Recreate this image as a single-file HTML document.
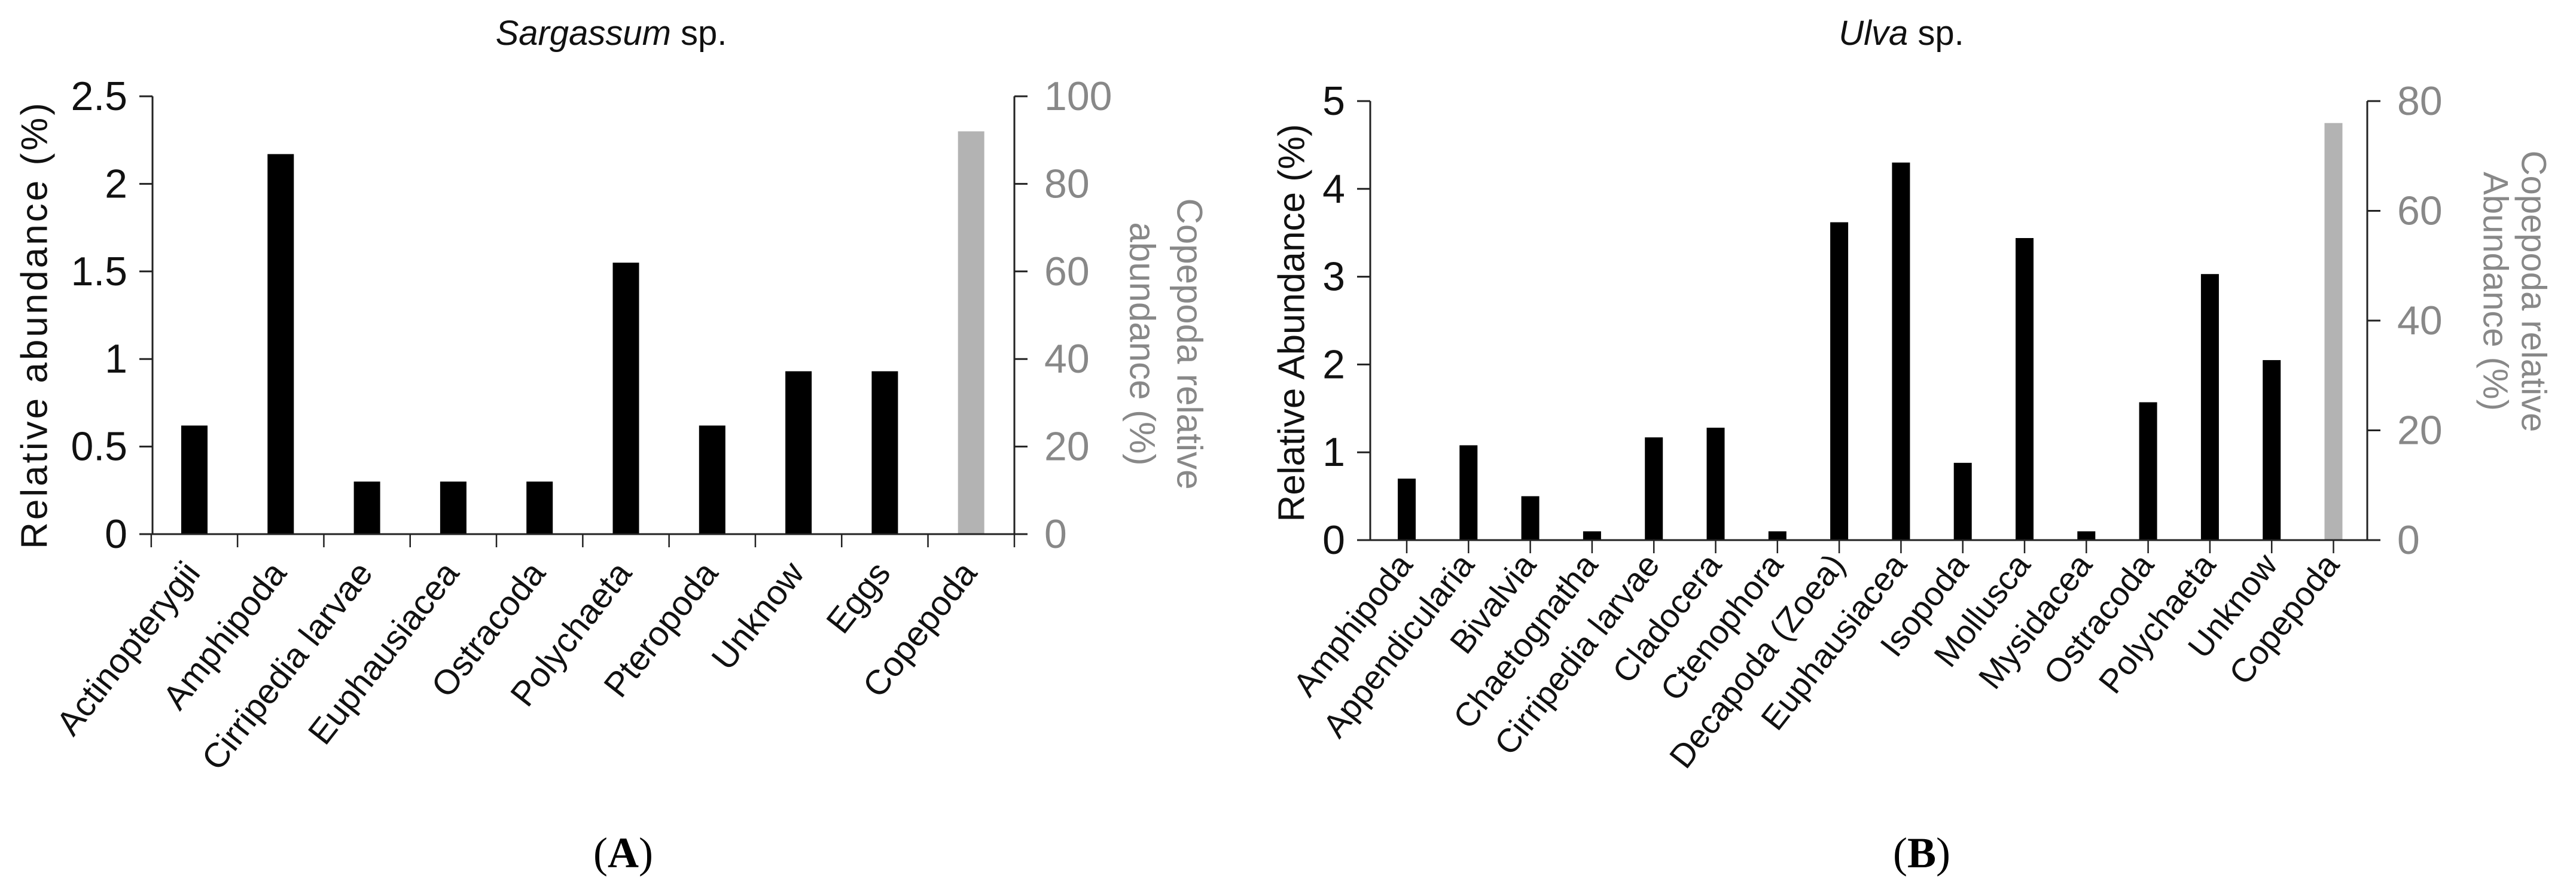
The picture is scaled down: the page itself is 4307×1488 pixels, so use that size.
<!DOCTYPE html>
<html><head><meta charset="utf-8"><style>
html,body{margin:0;padding:0;background:#fff}
svg{display:block}
text{font-family:"Liberation Sans",sans-serif}
</style></head><body>
<svg id="fig" width="4307" height="1488" viewBox="0 0 4307 1488" xmlns="http://www.w3.org/2000/svg">
<g id="chartA"></g>
<g id="chartB"></g>
<text x="1042" y="1450" text-anchor="middle" font-family="Liberation Serif,serif" font-size="72" style="font-family:'Liberation Serif',serif">(<tspan font-weight="bold">A</tspan>)</text>
<text x="3213" y="1450" text-anchor="middle" font-size="72" style="font-family:'Liberation Serif',serif">(<tspan font-weight="bold">B</tspan>)</text>
</svg>
<script>
const catsA = ["Actinopterygii","Amphipoda","Cirripedia larvae","Euphausiacea","Ostracoda","Polychaeta","Pteropoda","Unknow","Eggs"];
const valsA = [0.62,2.17,0.3,0.3,0.3,1.55,0.62,0.93,0.93];
const copeA = 92;
const ticksLA = [0,0.5,1,1.5,2,2.5];
const ticksRA = [0,20,40,60,80,100];

const catsB = ["Amphipoda","Appendicularia","Bivalvia","Chaetognatha","Cirripedia larvae","Cladocera","Ctenophora","Decapoda (Zoea)","Euphausiacea","Isopoda","Mollusca","Mysidacea","Ostracoda","Polychaeta","Unknow"];
const valsB = [0.7,1.08,0.5,0.1,1.17,1.28,0.1,3.62,4.3,0.88,3.44,0.1,1.57,3.03,2.05];
const copeB = 76;
const ticksLB = [0,1,2,3,4,5];
const ticksRB = [0,20,40,60,80];

const NS="http://www.w3.org/2000/svg";
function mk(parent, tag, attrs, txt){
  const e=document.createElementNS(NS,tag);
  for(const k in attrs) e.setAttribute(k,attrs[k]);
  if(txt!==undefined) e.textContent=txt;
  parent.appendChild(e); return e;
}

function drawChart(g, cfg){
  const {x0,x1,y0,y1,lmax,rmax,cats,vals,cope,tl,tr,firstC,step,barW,tickAtCenters} = cfg;
  const yL = v => y0 - (v/lmax)*(y0-y1);
  const yR = v => y0 - (v/rmax)*(y0-y1);
  const n = cats.length+1;
  const xc = i => firstC + i*step;
  // bars
  vals.forEach((v,i)=>{
    const r=mk(g,'rect',{x:xc(i)-barW/2,y:yL(v),width:barW,height:y0-yL(v),fill:'#000'});
    
    
  });
  const cr=mk(g,'rect',{x:xc(n-1)-barW/2,y:yR(cope),width:barW,height:y0-yR(cope),fill:'#b3b3b3'});
  
  
  // axes
  const ax=mk(g,'path',{d:`M${x0} ${y1}V${y0}M${x0-20} ${y0}H${x1+18}M${x1} ${y1}V${y0}`,stroke:'#222','stroke-width':3,fill:'none'});
  
  
  tl.forEach(v=>{
    mk(g,'line',{x1:x0-22,x2:x0,y1:yL(v),y2:yL(v),stroke:'#222','stroke-width':3});
    const t=mk(g,'text',{x:x0-42,y:yL(v),'text-anchor':'end','dominant-baseline':'central','font-size':68,fill:'#111'},String(v));
    
    
  });
  tr.forEach(v=>{
    mk(g,'line',{x1:x1,x2:x1+22,y1:yR(v),y2:yR(v),stroke:'#222','stroke-width':3});
    const t=mk(g,'text',{x:x1+50,y:yR(v),'text-anchor':'start','dominant-baseline':'central','font-size':68,fill:'#888'},String(v));
    
    
  });
  for(let i=0;i<n;i++){
    const tx = tickAtCenters ? xc(i) : xc(i)-step/2;
    mk(g,'line',{x1:tx,x2:tx,y1:y0,y2:y0+22,stroke:'#222','stroke-width':2.5});
  }
  if(!tickAtCenters){ mk(g,'line',{x1:x1,x2:x1,y1:y0,y2:y0+22,stroke:'#222','stroke-width':2.5}); }
  const all=cats.concat(["Copepoda"]);
  all.forEach((c,i)=>{
    const ex=xc(i)+12, ey=y0+cfg.labDy;
    const t=mk(g,'text',{x:0,y:0,'text-anchor':'end','font-size':cfg.labFs,fill:'#111',transform:`translate(${ex},${ey}) rotate(-52)`},c);
    
    
  });
}

const gA=document.getElementById('chartA');
drawChart(gA,{x0:255,x1:1696,y0:893,y1:161,lmax:2.5,rmax:100,cats:catsA,vals:valsA,cope:copeA,tl:ticksLA,tr:ticksRA,firstC:325,step:144.3,barW:44,tickAtCenters:false,labDy:66,labFs:58});
const gB=document.getElementById('chartB');
drawChart(gB,{x0:2291,x1:3958,y0:903,y1:169,lmax:5,rmax:80,cats:catsB,vals:valsB,cope:copeB,tl:ticksLB,tr:ticksRB,firstC:2352,step:103.3,barW:30,tickAtCenters:true,labDy:42,labFs:56});

// titles
let t;
t=mk(gA,'text',{x:1022,y:75,'text-anchor':'middle','font-size':58,fill:'#111'});
t.innerHTML='<tspan font-style="italic">Sargassum</tspan> sp.';


t=mk(gA,'text',{x:0,y:0,'text-anchor':'middle','dominant-baseline':'central','font-size':62,fill:'#111','letter-spacing':4,transform:'translate(58,543) rotate(-90)'},'Relative abundance (%)');


t=mk(gA,'text',{x:0,y:0,'text-anchor':'middle','dominant-baseline':'central','font-size':60,fill:'#888',transform:'translate(1989,575) rotate(90)'},'Copepoda relative');


t=mk(gA,'text',{x:0,y:0,'text-anchor':'middle','dominant-baseline':'central','font-size':60,fill:'#888',transform:'translate(1910,575) rotate(90)'},'abundance (%)');



t=mk(gB,'text',{x:3179,y:75,'text-anchor':'middle','font-size':58,fill:'#111'});
t.innerHTML='<tspan font-style="italic">Ulva</tspan> sp.';


t=mk(gB,'text',{x:0,y:0,'text-anchor':'middle','dominant-baseline':'central','font-size':62,fill:'#111',transform:'translate(2160,540) rotate(-90)'},'Relative Abundance (%)');


t=mk(gB,'text',{x:0,y:0,'text-anchor':'middle','dominant-baseline':'central','font-size':58,fill:'#888',transform:'translate(4236,487) rotate(90)'},'Copepoda relative');


t=mk(gB,'text',{x:0,y:0,'text-anchor':'middle','dominant-baseline':'central','font-size':58,fill:'#888',transform:'translate(4172,487) rotate(90)'},'Abundance (%)');


</script>
</body></html>
